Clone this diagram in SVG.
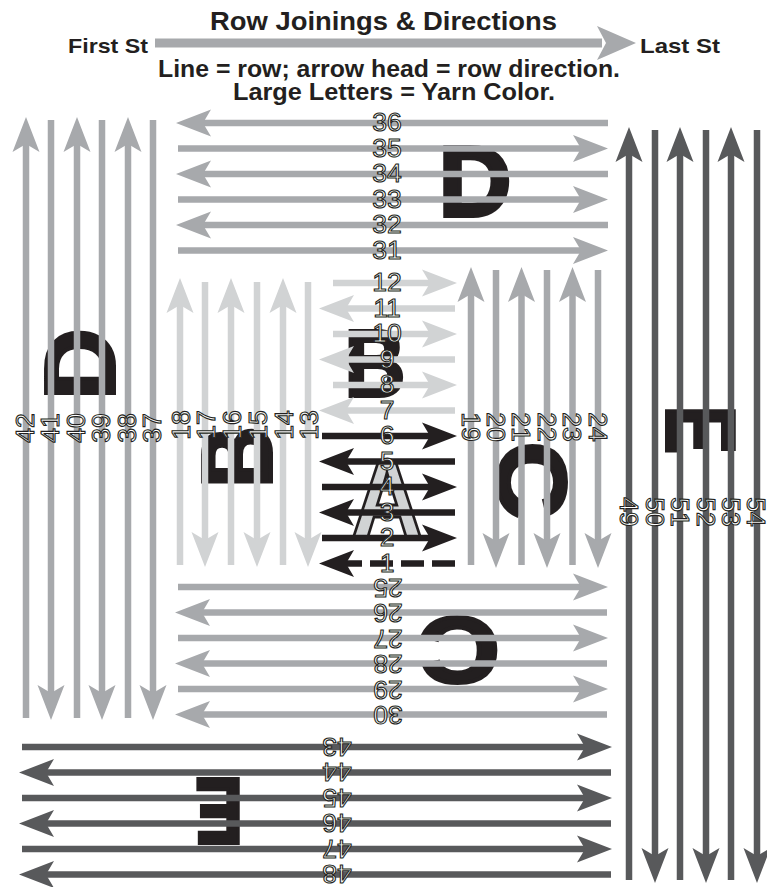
<svg xmlns="http://www.w3.org/2000/svg" width="767" height="887" viewBox="0 0 767 887">
<style>
.t{font-family:"Liberation Sans",Arial,sans-serif;font-weight:bold;fill:#231f20}
.c path{fill:none;stroke-width:6.5}
.m{stroke:#a7a9ac;marker-end:url(#hm)}
.l{stroke:#d1d3d4;marker-end:url(#hl)}
.k{stroke:#231f20;marker-end:url(#hk)}
.d{stroke:#58595b;marker-end:url(#hd)}
.let{font-family:"Liberation Sans",Arial,sans-serif;font-weight:bold;fill:#231f20;stroke:#231f20;stroke-width:4;stroke-linejoin:miter;text-anchor:middle}
.num{font-family:"Liberation Sans",Arial,sans-serif;font-size:26.5px;fill:#fff;stroke:#231f20;stroke-width:1.1;text-anchor:middle}
</style>
<defs>
<marker id="hm" markerUnits="userSpaceOnUse" markerWidth="40" markerHeight="30" viewBox="-38 -15 40 30" refX="-20" refY="0" orient="auto"><path d="M0,0L-35,-13.5L-27,0L-35,13.5Z" fill="#a7a9ac"/></marker>
<marker id="hl" markerUnits="userSpaceOnUse" markerWidth="40" markerHeight="30" viewBox="-38 -15 40 30" refX="-20" refY="0" orient="auto"><path d="M0,0L-35,-13.5L-27,0L-35,13.5Z" fill="#d1d3d4"/></marker>
<marker id="hk" markerUnits="userSpaceOnUse" markerWidth="40" markerHeight="30" viewBox="-38 -15 40 30" refX="-20" refY="0" orient="auto"><path d="M0,0L-35,-13.5L-27,0L-35,13.5Z" fill="#231f20"/></marker>
<marker id="hd" markerUnits="userSpaceOnUse" markerWidth="40" markerHeight="30" viewBox="-38 -15 40 30" refX="-20" refY="0" orient="auto"><path d="M0,0L-35,-13.5L-27,0L-35,13.5Z" fill="#58595b"/></marker>
</defs>
<rect width="767" height="887" fill="#fff"/>

<g id="header">
<text class="t" x="383.5" y="30" font-size="25" text-anchor="middle" textLength="347" lengthAdjust="spacingAndGlyphs">Row Joinings &amp; Directions</text>
<text class="t" x="68" y="53" font-size="21" textLength="80" lengthAdjust="spacingAndGlyphs">First St</text>
<text class="t" x="640" y="53" font-size="21" textLength="80" lengthAdjust="spacingAndGlyphs">Last St</text>
<path d="M155,43H602" stroke="#a7a9ac" stroke-width="9" fill="none"/>
<path d="M636,43L597,26L606,43L597,60Z" fill="#a7a9ac"/>
<text class="t" x="389" y="77" font-size="23.5" text-anchor="middle" textLength="462" lengthAdjust="spacingAndGlyphs">Line = row; arrow head = row direction.</text>
<text class="t" x="394" y="100" font-size="23.5" text-anchor="middle" textLength="322" lengthAdjust="spacingAndGlyphs">Large Letters = Yarn Color.</text>
</g>

<g id="letters">
<g id="letter-D-top"><text class="let" transform="translate(475,180)" font-size="101" y="36">D</text></g>
<g id="letter-D-left"><text class="let" transform="translate(79,364) rotate(-90)" font-size="98" y="35">D</text></g>
<g id="letter-B-left"><text class="let" transform="translate(236,457) rotate(-90) scale(0.86,1)" font-size="98" y="35">B</text></g>
<g id="letter-B-center"><text class="let" transform="translate(375,362) scale(0.88,1)" font-size="95" y="34">B</text></g>
<g id="letter-A"><text class="let" transform="translate(387,497) scale(0.9,1)" font-size="110" y="39" style="fill:#d1d3d4;stroke-width:3">A</text></g>
<g id="letter-C-right"><text class="let" transform="translate(533,480) rotate(90) scale(1.1,1)" font-size="96" y="34">C</text></g>
<g id="letter-E-right"><text class="let" transform="translate(702,430) rotate(90) scale(0.74,1)" font-size="97" y="35">E</text></g>
<g id="letter-C-bottom"><text class="let" transform="translate(460,651) rotate(180) scale(1.18,1)" font-size="93" y="33">C</text></g>
<g id="letter-E-bottom"><text class="let" transform="translate(219,812) rotate(180) scale(0.78,1)" font-size="92" y="33">E</text></g>
</g>

<g id="connectors" class="c">
<path class="m" d="M608,123H196"/>
<path class="m" d="M178,148.5H588"/>
<path class="m" d="M608,174H196"/>
<path class="m" d="M178,199.5H588"/>
<path class="m" d="M608,225H196"/>
<path class="m" d="M178,250.5H588"/>
<path class="m" d="M26,718V137"/>
<path class="m" d="M51,120V700"/>
<path class="m" d="M77,718V137"/>
<path class="m" d="M102,120V700"/>
<path class="m" d="M128,718V137"/>
<path class="m" d="M153,120V700"/>
<path class="m" d="M471,565V287"/>
<path class="m" d="M496,270V548"/>
<path class="m" d="M521.5,565V287"/>
<path class="m" d="M547,270V548"/>
<path class="m" d="M572.5,565V287"/>
<path class="m" d="M598,270V548"/>
<path class="m" d="M178,587H588"/>
<path class="m" d="M607,612.5H195"/>
<path class="m" d="M178,638H588"/>
<path class="m" d="M607,663.5H195"/>
<path class="m" d="M178,689H588"/>
<path class="m" d="M607,714.5H195"/>
<path class="l" d="M180,565V298"/>
<path class="l" d="M205,282V547"/>
<path class="l" d="M231,565V298"/>
<path class="l" d="M257,282V547"/>
<path class="l" d="M283,565V298"/>
<path class="l" d="M308,282V547"/>
<path class="l" d="M333,283H437"/>
<path class="l" d="M455,308.5H339"/>
<path class="l" d="M333,334H437"/>
<path class="l" d="M455,359.5H339"/>
<path class="l" d="M333,385H437"/>
<path class="l" d="M455,410.5H339"/>
<path class="k" d="M322,436H437"/>
<path class="k" d="M455,461.5H339"/>
<path class="k" d="M322,487H437"/>
<path class="k" d="M455,512.5H339"/>
<path class="k" d="M322,538H437"/>
<path class="k" d="M455,563.5H339" stroke-dasharray="23 8"/>
<path class="d" d="M629,880V147"/>
<path class="d" d="M655,130V863"/>
<path class="d" d="M680,880V147"/>
<path class="d" d="M706,130V863"/>
<path class="d" d="M731,880V147"/>
<path class="d" d="M757,130V863"/>
<path class="d" d="M22,747H592"/>
<path class="d" d="M611,772.5H39"/>
<path class="d" d="M22,798H592"/>
<path class="d" d="M611,823.5H39"/>
<path class="d" d="M22,849H592"/>
<path class="d" d="M611,874.5H39"/>
</g>

<g id="labels">
<text class="num" x="387" y="131">36</text>
<text class="num" x="387" y="156.5">35</text>
<text class="num" x="387" y="182">34</text>
<text class="num" x="387" y="207.5">33</text>
<text class="num" x="387" y="233">32</text>
<text class="num" x="387" y="258.5">31</text>
<text class="num" x="387" y="291">12</text>
<text class="num" x="387" y="316.5">11</text>
<text class="num" x="387" y="342">10</text>
<text class="num" x="387" y="367.5">9</text>
<text class="num" x="387" y="393">8</text>
<text class="num" x="387" y="418.5">7</text>
<text class="num" x="387" y="444">6</text>
<text class="num" x="387" y="469.5">5</text>
<text class="num" x="387" y="495">4</text>
<text class="num" x="387" y="520.5">3</text>
<text class="num" x="387" y="546">2</text>
<text class="num" x="387" y="571.5">1</text>
<text class="num" transform="translate(388,588) rotate(180)" y="9.5">25</text>
<text class="num" transform="translate(388,613.5) rotate(180)" y="9.5">26</text>
<text class="num" transform="translate(388,639) rotate(180)" y="9.5">27</text>
<text class="num" transform="translate(388,664.5) rotate(180)" y="9.5">28</text>
<text class="num" transform="translate(388,690) rotate(180)" y="9.5">29</text>
<text class="num" transform="translate(388,715.5) rotate(180)" y="9.5">30</text>
<text class="num" transform="translate(337,747) rotate(180)" y="9.5">43</text>
<text class="num" transform="translate(337,772.5) rotate(180)" y="9.5">44</text>
<text class="num" transform="translate(337,798) rotate(180)" y="9.5">45</text>
<text class="num" transform="translate(337,823.5) rotate(180)" y="9.5">46</text>
<text class="num" transform="translate(337,849) rotate(180)" y="9.5">47</text>
<text class="num" transform="translate(337,874) rotate(180)" y="9.5">48</text>
<text class="num" transform="translate(24,428) rotate(-90)" y="9.5">42</text>
<text class="num" transform="translate(49,428) rotate(-90)" y="9.5">41</text>
<text class="num" transform="translate(75,428) rotate(-90)" y="9.5">40</text>
<text class="num" transform="translate(100,428) rotate(-90)" y="9.5">39</text>
<text class="num" transform="translate(126,428) rotate(-90)" y="9.5">38</text>
<text class="num" transform="translate(151,428) rotate(-90)" y="9.5">37</text>
<text class="num" transform="translate(180,425) rotate(-90)" y="9.5">18</text>
<text class="num" transform="translate(205,425) rotate(-90)" y="9.5">17</text>
<text class="num" transform="translate(231,425) rotate(-90)" y="9.5">16</text>
<text class="num" transform="translate(257,425) rotate(-90)" y="9.5">15</text>
<text class="num" transform="translate(283,425) rotate(-90)" y="9.5">14</text>
<text class="num" transform="translate(308,425) rotate(-90)" y="9.5">13</text>
<text class="num" transform="translate(471,427) rotate(90)" y="9.5">19</text>
<text class="num" transform="translate(496,427) rotate(90)" y="9.5">20</text>
<text class="num" transform="translate(521.5,427) rotate(90)" y="9.5">21</text>
<text class="num" transform="translate(547,427) rotate(90)" y="9.5">22</text>
<text class="num" transform="translate(572.5,427) rotate(90)" y="9.5">23</text>
<text class="num" transform="translate(598,427) rotate(90)" y="9.5">24</text>
<text class="num" transform="translate(629,512) rotate(90)" y="9.5">49</text>
<text class="num" transform="translate(655,512) rotate(90)" y="9.5">50</text>
<text class="num" transform="translate(680,512) rotate(90)" y="9.5">51</text>
<text class="num" transform="translate(706,512) rotate(90)" y="9.5">52</text>
<text class="num" transform="translate(731,512) rotate(90)" y="9.5">53</text>
<text class="num" transform="translate(756,512) rotate(90)" y="9.5">54</text>
</g>
</svg>
